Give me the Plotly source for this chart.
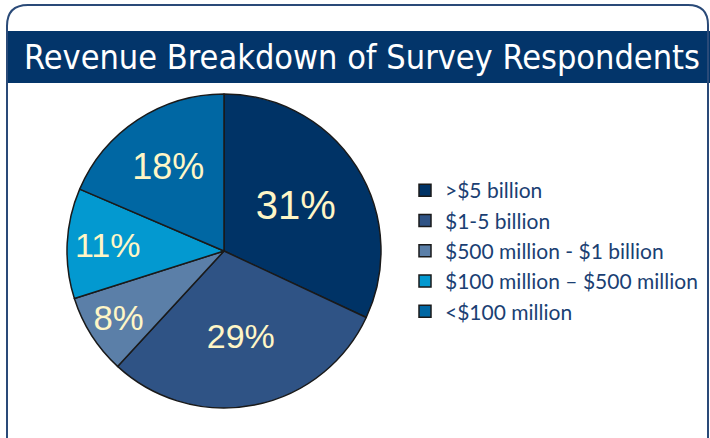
import plotly.graph_objects as go

W, H = 710, 438

categories = [">$5 billion", "$1-5 billion", "$500 million - $1 billion",
              "$100 million – $500 million", "<$100 million"]
percent = [31, 29, 8, 11, 18]
slice_colors = ["#003366", "#2F5385", "#5B7FA8", "#0399D0", "#0067A3"]
label_sizes = [40, 34, 36, 34, 36]
title_text = "Revenue Breakdown of Survey Respondents"


def px(x):
    return x / W


def py(y):
    return 1 - y / H


cx, cy, r = 224, 251, 157

fig = go.Figure(go.Pie(
    labels=categories,
    values=percent,
    text=[f"{p}%" for p in percent],
    textinfo="text",
    textposition="inside",
    insidetextorientation="horizontal",
    sort=False,
    direction="clockwise",
    rotation=0,
    marker=dict(colors=slice_colors, line=dict(color="#1a1a1a", width=1.5)),
    textfont=dict(family="Liberation Sans, Arial", size=label_sizes, color="#FFF6C6"),
    domain=dict(x=[px(cx - r), px(cx + r)], y=[py(cy + r), py(cy - r)]),
    hoverinfo="label+text",
))

border = " ".join([
    f"M {px(7)},{py(438)}",
    f"L {px(7)},{py(26)}",
    f"Q {px(7)},{py(5)} {px(28)},{py(5)}",
    f"L {px(688)},{py(5)}",
    f"Q {px(708)},{py(5)} {px(708)},{py(25)}",
    f"L {px(708)},{py(438)}",
])

fig.update_layout(
    width=W, height=H,
    margin=dict(l=0, r=0, t=0, b=0),
    paper_bgcolor="white",
    plot_bgcolor="white",
    showlegend=True,
    legend=dict(
        x=px(405), y=py(251), xanchor="left", yanchor="middle",
        font=dict(family="Lato, Open Sans", size=21, color="#1B3F73"),
        bgcolor="rgba(0,0,0,0)",
        tracegroupgap=0,
    ),
    shapes=[
        dict(type="rect", xref="paper", yref="paper",
             x0=px(8), x1=1.0, y0=py(83), y1=py(31),
             fillcolor="#03356A", line=dict(width=0), layer="below"),
        dict(type="path", xref="paper", yref="paper", path=border,
             line=dict(color="#2A4A78", width=2)),
    ],
    annotations=[
        dict(text=title_text, xref="paper", yref="paper",
             x=px(362), y=py(57), xanchor="center", yanchor="middle",
             showarrow=False,
             font=dict(family="DejaVu Sans Condensed, Liberation Sans, Arial", size=34, color="white")),
    ],
)

fig.write_html("out.html")
